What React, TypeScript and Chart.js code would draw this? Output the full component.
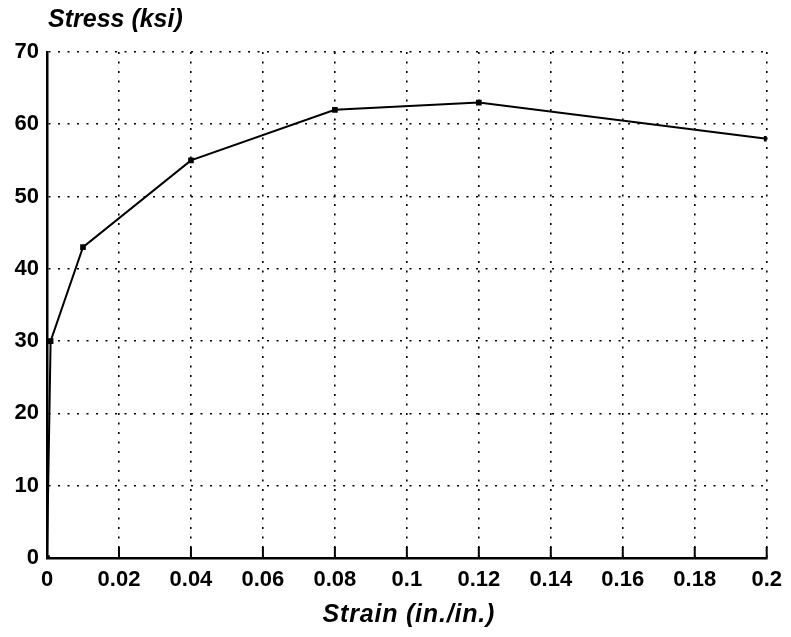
import React, { useEffect, useRef } from "react";
import { Chart, registerables } from "chart.js";

Chart.register(...registerables);

const strain = [0, 0.001, 0.01, 0.04, 0.08, 0.12, 0.2];
const stress = [0, 30, 43, 55, 62, 63, 58];
const xTickLabels = ["0", "0.02", "0.04", "0.06", "0.08", "0.1", "0.12", "0.14", "0.16", "0.18", "0.2"];
const yTickLabels = ["0", "10", "20", "30", "40", "50", "60", "70"];
const yTitle = "Stress (ksi)";
const xTitle = "Strain (in./in.)";

const FONT = '"Liberation Sans", Arial, sans-serif';
const INK = "#000";

const decorPlugin = {
  id: "decor",
  afterDraw(chart: any) {
    const { ctx, chartArea, scales } = chart;
    ctx.save();
    // inward tick marks on the bottom axis
    const xs = scales.x;
    ctx.strokeStyle = INK;
    ctx.lineWidth = 2;
    xs.ticks.forEach((_t: any, i: number) => {
      const px = xs.getPixelForTick(i);
      ctx.beginPath();
      ctx.moveTo(px, chartArea.bottom);
      ctx.lineTo(px, chartArea.bottom - 11);
      ctx.stroke();
    });
    ctx.fillStyle = INK;
    ctx.font = `italic bold 25px ${FONT}`;
    ctx.textBaseline = "alphabetic";
    ctx.textAlign = "left";
    (ctx as any).letterSpacing = "0px";
    ctx.fillText(yTitle, chartArea.left + 1, 27);
    ctx.textAlign = "center";
    (ctx as any).letterSpacing = "0.8px";
    ctx.fillText(xTitle, (chartArea.left + chartArea.right) / 2 + 2, 622);
    ctx.restore();
  },
};

export default function App() {
  const ref = useRef<HTMLCanvasElement | null>(null);
  useEffect(() => {
    if (!ref.current) return;
    const chart = new Chart(ref.current, {
      type: "line",
      data: {
        datasets: [
          {
            data: strain.map((x, i) => ({ x, y: stress[i] })),
            borderColor: INK,
            backgroundColor: INK,
            borderWidth: 2,
            pointStyle: "rect",
            pointRadius: 4,
            pointBorderWidth: 0,
            tension: 0,
          },
        ],
      },
      options: {
        animation: false,
        responsive: false,
        maintainAspectRatio: false,
        layout: { padding: { top: 52, right: 20, left: 0, bottom: 0 } },
        plugins: { legend: { display: false }, tooltip: { enabled: false }, title: { display: false } },
        scales: {
          x: {
            type: "linear",
            min: 0,
            max: 0.2,
            afterFit: (s: any) => {
              s.height = 79;
            },
            ticks: {
              stepSize: 0.02,
              autoSkip: false,
              maxRotation: 0,
              padding: 9,
              color: INK,
              font: { family: FONT, size: 22, weight: "bold" },
              callback: (_v: any, i: number) => xTickLabels[i],
            },
            grid: {
              color: INK,
              lineWidth: 1.6,
              drawTicks: false,
            },
            border: { color: INK, width: 2.5, dash: [2, 7.5] as any },
          },
          y: {
            min: 0,
            max: 70,
            afterFit: (s: any) => {
              s.width = 47;
            },
            ticks: {
              stepSize: 10,
              padding: 8,
              color: INK,
              font: { family: FONT, size: 22, weight: "bold" },
              callback: (_v: any, i: number) => yTickLabels[i],
            },
            grid: {
              color: INK,
              lineWidth: 1.6,
              drawTicks: false,
            },
            border: { color: INK, width: 2.5, dash: [2, 7.5] as any },
          },
        },
      },
      plugins: [decorPlugin],
    });
    return () => chart.destroy();
  }, []);
  return (
    <div style={{ position: "fixed", left: 0, top: 0, width: 791, height: 637, background: "#fff" }}>
      <canvas ref={ref} width={791} height={637} style={{ width: 791, height: 637 }} />
    </div>
  );
}
